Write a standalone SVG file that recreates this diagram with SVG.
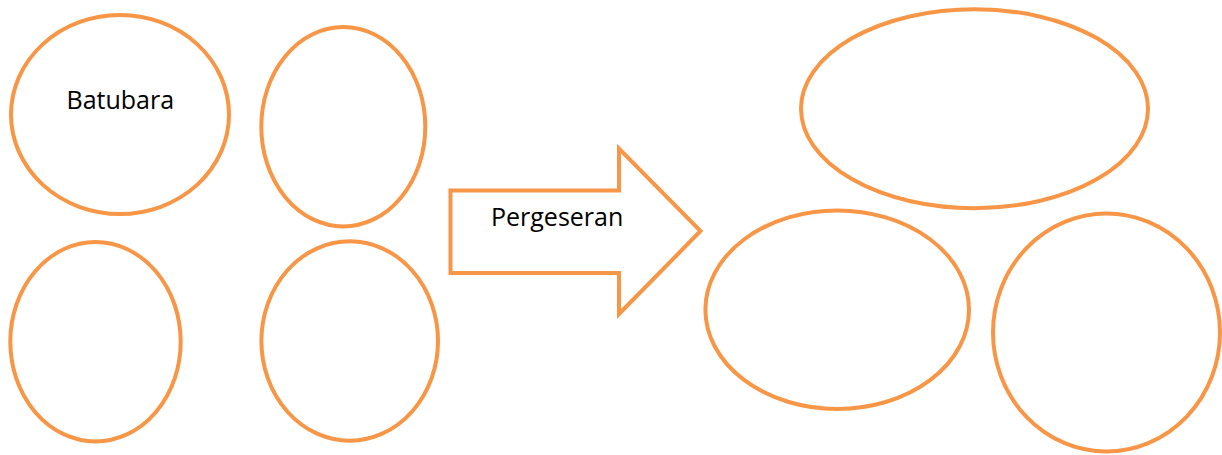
<svg xmlns="http://www.w3.org/2000/svg" width="1222" height="455" viewBox="0 0 1222 455">
<style>
.s{fill:#FFFFFF;stroke:#F79646;stroke-width:4}
.t{font-family:"Open Sans","Noto Sans",sans-serif;font-size:25px;fill:#000000}
</style>
<rect width="1222" height="455" fill="#FFFFFF"/>
<g id="node-batubara"><ellipse class="s" cx="120" cy="114.5" rx="109" ry="99.5"/><text class="t" x="66.5" y="108.5">Batubara</text></g>
<g id="node-2"><ellipse class="s" cx="343.3" cy="126.7" rx="82" ry="99.7"/></g>
<g id="node-3"><ellipse class="s" cx="95.5" cy="341.7" rx="85.2" ry="99.7"/></g>
<g id="node-4"><ellipse class="s" cx="349.7" cy="341" rx="88.3" ry="99.7"/></g>
<g id="node-arrow"><path class="s" d="M450.5 190.5 H619 V148.5 L700.5 231 L619 314 V273 H450.5 Z"/><text class="t" x="491" y="225.5">Pergeseran</text></g>
<g id="node-5"><ellipse class="s" cx="974.5" cy="108.7" rx="173.5" ry="99.5"/></g>
<g id="node-6"><ellipse class="s" cx="837.2" cy="309.7" rx="131.8" ry="99.3"/></g>
<g id="node-7"><ellipse class="s" cx="1106.5" cy="332.5" rx="113.5" ry="119"/></g>
<g id="connectors"></g>
</svg>
